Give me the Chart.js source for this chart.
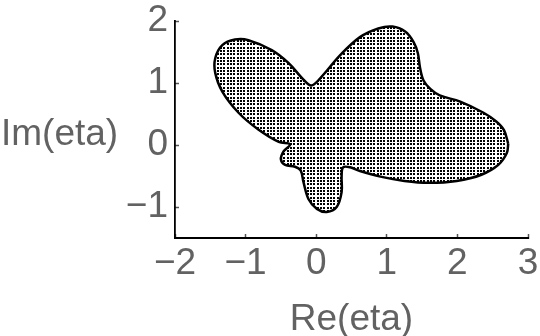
<!DOCTYPE html>
<html>
<head>
<meta charset="utf-8">
<script src="https://cdn.jsdelivr.net/npm/chart.js@4.4.0/dist/chart.umd.min.js"></script>
<style>
    html, body { margin: 0; padding: 0; background: #fff; }
    #wrap { width: 540px; height: 336px; }
</style>
</head>
<body>
<div id="wrap"><canvas id="etaChart" width="540" height="336"></canvas></div>
<script>
// Outline of the region, traced counter-clockwise from the right tip
const reEta = [2.72, 2.66, 2.55, 2.37, 2.04, 1.75, 1.62, 1.52, 1.47, 1.44, 1.38, 1.26, 1.08, 0.88, 0.62, 0.34, 0.06, -0.07,
    -0.20, -0.39, -0.63, -0.96, -1.15, -1.33, -1.43, -1.43, -1.33, -1.10, -0.82, -0.53, -0.37, -0.46, -0.50, -0.44,
    -0.30, -0.22, -0.18, -0.11, 0.01, 0.15, 0.29, 0.36, 0.36, 0.38, 0.48, 0.62, 0.91, 1.25, 1.60, 1.99, 2.34, 2.58, 2.70, 2.72];
const imEta = [0.02, 0.24, 0.38, 0.52, 0.70, 0.80, 0.90, 1.04, 1.25, 1.48, 1.66, 1.83, 1.91, 1.88, 1.74, 1.45, 1.08, 0.96,
    1.08, 1.32, 1.53, 1.69, 1.70, 1.61, 1.40, 1.16, 0.86, 0.52, 0.25, 0.05, 0.01, -0.10, -0.23, -0.32,
    -0.35, -0.41, -0.60, -0.87, -1.03, -1.08, -1.00, -0.76, -0.50, -0.36, -0.36, -0.42, -0.51, -0.58, -0.61, -0.58, -0.48, -0.32, -0.13, 0.02];

const xTicks = [-2, -1, 0, 1, 2, 3];
const yTicks = [-1, 0, 1, 2];
const xTitle = 'Re(eta)';
const yTitle = 'Im(eta)';

const grey = '#626262';
const font = '"Liberation Sans", Arial, sans-serif';

// dotted fill like the original (about 3.3px between dots)
function dotPattern() {
    const c = document.createElement('canvas');
    c.width = 10;
    c.height = 10;
    const g = c.getContext('2d');
    g.fillStyle = '#fff';
    g.fillRect(0, 0, 10, 10);
    g.fillStyle = '#000';
    [0, 3, 7].forEach(px => {
        [0, 3, 7].forEach(py => g.fillRect(px, py, 2, 2));
    });
    return g.createPattern(c, 'repeat');
}

const fmt = (v) => (v < 0 ? '\u2212' + Math.abs(v) : String(v));

// axis titles: the y one stays horizontal, so draw both by hand
const axisTitles = {
    id: 'axisTitles',
    afterDraw(chart) {
        const { ctx, chartArea } = chart;
        ctx.save();
        ctx.fillStyle = grey;
        ctx.font = '37px ' + font;
        ctx.textBaseline = 'alphabetic';
        ctx.textAlign = 'center';
        ctx.fillText(xTitle, (chartArea.left + chartArea.right) / 2, 330);
        ctx.textAlign = 'left';
        ctx.fillText(yTitle, 1, 145);
        ctx.restore();
    }
};

new Chart(document.getElementById('etaChart'), {
    type: 'scatter',
    data: {
        datasets: [{
            data: reEta.map((x, i) => ({ x: x, y: imEta[i] })),
            showLine: true,
            fill: 'shape',
            backgroundColor: dotPattern(),
            borderColor: '#000',
            borderWidth: 2.5,
            tension: 0.35,
            pointRadius: 0
        }]
    },
    options: {
        responsive: false,
        animation: false,
        layout: { padding: { top: 21, right: 12, left: 0, bottom: 0 } },
        plugins: { legend: { display: false }, tooltip: { enabled: false } },
        scales: {
            x: {
                type: 'linear',
                min: -2,
                max: 3,
                afterBuildTicks: (s) => { s.ticks = xTicks.map(v => ({ value: v })); },
                afterFit: (s) => { s.height = 98; s.paddingLeft = 0; s.paddingRight = 0; },
                grid: { drawOnChartArea: false, drawTicks: true, tickLength: -4, tickColor: '#555', tickWidth: 1.5 },
                border: { color: '#000', width: 2 },
                ticks: {
                    color: grey,
                    font: { family: font, size: 37 },
                    padding: 8,
                    maxRotation: 0,
                    callback: fmt
                }
            },
            y: {
                type: 'linear',
                min: -1.5,
                max: 2,
                afterBuildTicks: (s) => { s.ticks = yTicks.map(v => ({ value: v })); },
                afterFit: (s) => { s.width = 175; s.paddingTop = 0; s.paddingBottom = 0; },
                grid: { drawOnChartArea: false, drawTicks: true, tickLength: -4, tickColor: '#555', tickWidth: 1.5 },
                border: { color: '#000', width: 1.8 },
                ticks: {
                    color: grey,
                    font: { family: font, size: 37 },
                    padding: 11,
                    callback: fmt
                }
            }
        }
    },
    plugins: [axisTitles]
});
</script>
</body>
</html>
